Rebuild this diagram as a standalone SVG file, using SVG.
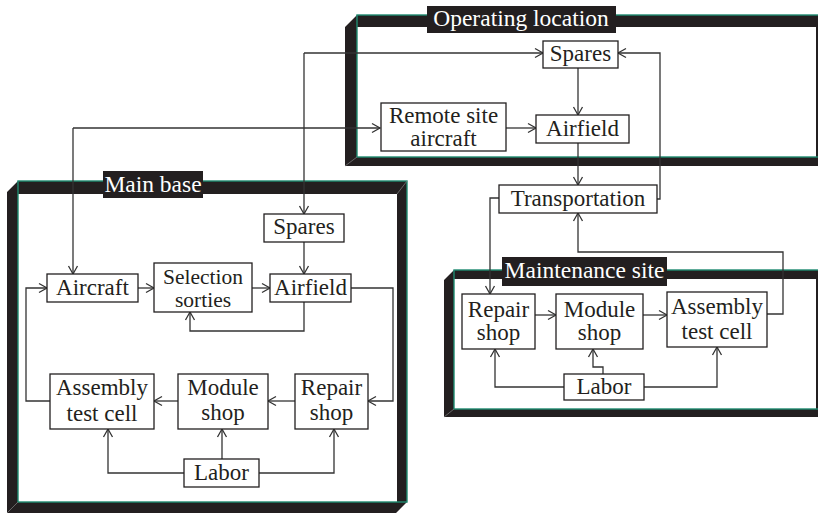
<svg xmlns="http://www.w3.org/2000/svg" width="818" height="514" viewBox="0 0 818 514">
<style>
.frame{fill:#231f20;fill-rule:evenodd}
.teal{fill:none;stroke:#1f8a70;stroke-width:1.4}
.miter{stroke:#777;stroke-width:0.8}
.box{fill:#fff;stroke:#231f20;stroke-width:1.3}
.t{font-family:"Liberation Serif","Times New Roman",serif;font-size:23px;fill:#231f20;text-anchor:middle}
.s{font-size:21.5px}
.lt{font-family:"Liberation Serif","Times New Roman",serif;font-size:23.5px;fill:#fff;text-anchor:middle}
.c{fill:none;stroke:#333;stroke-width:1.3}
</style>
<defs>
<marker id="a" markerWidth="12" markerHeight="12" viewBox="-10 -6 12 12" refX="0" refY="0" orient="auto" markerUnits="userSpaceOnUse">
<path d="M-8,-4.5 L0,0 L-8,4.5" fill="none" stroke="#333" stroke-width="1.3"/>
</marker>
</defs>
<rect width="818" height="514" fill="#fff"/>

<g id="frame-operating">
<path class="frame" d="M357,15 L830,15 L830,157 L821,166 L345,166 L345,27 Z M357,27 L816,27 L816,157 L357,157 Z"/>
<rect class="teal" x="357" y="15" width="470" height="142"/>
<line class="miter" x1="345" y1="166" x2="357" y2="157"/>
<rect x="427" y="6" width="189" height="27" fill="#231f20"/>
<text class="lt" x="521" y="26">Operating location</text>
</g>

<g id="frame-main">
<path class="frame" d="M18,181 L407,181 L407,502 L396,513 L7,513 L7,192 Z M18,194 L397,194 L397,502 L18,502 Z"/>
<rect class="teal" x="18" y="181" width="389" height="321"/>
<line class="miter" x1="7" y1="513" x2="18" y2="502"/>
<line class="miter" x1="397" y1="194" x2="407" y2="181"/>
<rect x="103" y="171" width="100" height="27" fill="#231f20"/>
<text class="lt" x="153" y="192">Main base</text>
</g>

<g id="frame-maintenance">
<path class="frame" d="M454,270 L830,270 L830,409 L822,417 L444,417 L444,280 Z M454,279 L816,279 L816,409 L454,409 Z"/>
<rect class="teal" x="454" y="270" width="372" height="139"/>
<line class="miter" x1="444" y1="417" x2="454" y2="409"/>
<rect x="502" y="257" width="165" height="29" fill="#231f20"/>
<text class="lt" x="584.5" y="278">Maintenance site</text>
</g>

<g id="connectors">
<path class="c" d="M73,128 L380,128" marker-end="url(#a)"/>
<path class="c" d="M73,128 L73,274" marker-end="url(#a)"/>
<path class="c" d="M304,53 L543,53" marker-end="url(#a)"/>
<path class="c" d="M304,53 L304,214" marker-end="url(#a)"/>
<path class="c" d="M578,68 L578,115" marker-end="url(#a)"/>
<path class="c" d="M506,128 L536,128" marker-end="url(#a)"/>
<path class="c" d="M578,143 L578,185" marker-end="url(#a)"/>
<path class="c" d="M657,199 L660,199 L660,53 L618,53" marker-end="url(#a)"/>
<path class="c" d="M499,198 L490,198 L490,294" marker-end="url(#a)"/>
<path class="c" d="M767,314 L783,314 L783,252 L578,252 L578,213" marker-end="url(#a)"/>
<path class="c" d="M535,315 L556,315" marker-end="url(#a)"/>
<path class="c" d="M643,315 L667,315" marker-end="url(#a)"/>
<path class="c" d="M564,387 L495,387 L495,349" marker-end="url(#a)"/>
<path class="c" d="M603,374 L603,367 L593,367 L593,349" marker-end="url(#a)"/>
<path class="c" d="M644,387 L717,387 L717,347" marker-end="url(#a)"/>
<path class="c" d="M138,288 L154,288" marker-end="url(#a)"/>
<path class="c" d="M252,288 L270,288" marker-end="url(#a)"/>
<path class="c" d="M304,242 L304,274" marker-end="url(#a)"/>
<path class="c" d="M304,302 L304,331 L190,331 L190,312" marker-end="url(#a)"/>
<path class="c" d="M351,288 L393,288 L393,401 L368,401" marker-end="url(#a)"/>
<path class="c" d="M295,401 L268,401" marker-end="url(#a)"/>
<path class="c" d="M178,401 L154,401" marker-end="url(#a)"/>
<path class="c" d="M50,401 L26,401 L26,288 L47,288" marker-end="url(#a)"/>
<path class="c" d="M222,459 L222,429" marker-end="url(#a)"/>
<path class="c" d="M184,473 L108,473 L108,429" marker-end="url(#a)"/>
<path class="c" d="M259,473 L334,473 L334,429" marker-end="url(#a)"/>
</g>

<g id="op-spares"><rect class="box" x="543" y="41" width="75" height="27"/><text class="t" x="580.5" y="61">Spares</text></g>
<g id="op-remote"><rect class="box" x="381" y="103" width="125" height="48"/><text class="t" x="443.5" y="123">Remote site</text><text class="t" x="443.5" y="146">aircraft</text></g>
<g id="op-airfield"><rect class="box" x="536" y="115" width="93" height="28"/><text class="t" x="582.5" y="136">Airfield</text></g>
<g id="transportation"><rect class="box" x="499" y="185" width="158" height="28"/><text class="t" x="578" y="206">Transportation</text></g>

<g id="mb-spares"><rect class="box" x="264" y="214" width="80" height="28"/><text class="t" x="304" y="234">Spares</text></g>
<g id="mb-aircraft"><rect class="box" x="47" y="274" width="91" height="28"/><text class="t" x="92.5" y="295">Aircraft</text></g>
<g id="mb-selection"><rect class="box" x="154" y="263" width="98" height="49"/><text class="t s" x="203" y="284">Selection</text><text class="t s" x="203" y="307">sorties</text></g>
<g id="mb-airfield"><rect class="box" x="270" y="274" width="81" height="28"/><text class="t" x="310.5" y="295">Airfield</text></g>
<g id="mb-assembly"><rect class="box" x="50" y="374" width="104" height="55"/><text class="t" x="102" y="395">Assembly</text><text class="t" x="102" y="421">test cell</text></g>
<g id="mb-module"><rect class="box" x="178" y="374" width="90" height="55"/><text class="t" x="223" y="395">Module</text><text class="t" x="223" y="420">shop</text></g>
<g id="mb-repair"><rect class="box" x="295" y="374" width="73" height="55"/><text class="t" x="331.5" y="395">Repair</text><text class="t" x="331.5" y="420">shop</text></g>
<g id="mb-labor"><rect class="box" x="184" y="459" width="75" height="28"/><text class="t" x="221.5" y="480">Labor</text></g>

<g id="ms-repair"><rect class="box" x="462" y="294" width="73" height="55"/><text class="t" x="498.5" y="317">Repair</text><text class="t" x="498.5" y="340">shop</text></g>
<g id="ms-module"><rect class="box" x="556" y="294" width="87" height="55"/><text class="t" x="599.5" y="317">Module</text><text class="t" x="599.5" y="340">shop</text></g>
<g id="ms-assembly"><rect class="box" x="667" y="292" width="100" height="55"/><text class="t" x="717" y="314">Assembly</text><text class="t" x="717" y="339">test cell</text></g>
<g id="ms-labor"><rect class="box" x="564" y="374" width="80" height="26"/><text class="t" x="604" y="394">Labor</text></g>
</svg>
